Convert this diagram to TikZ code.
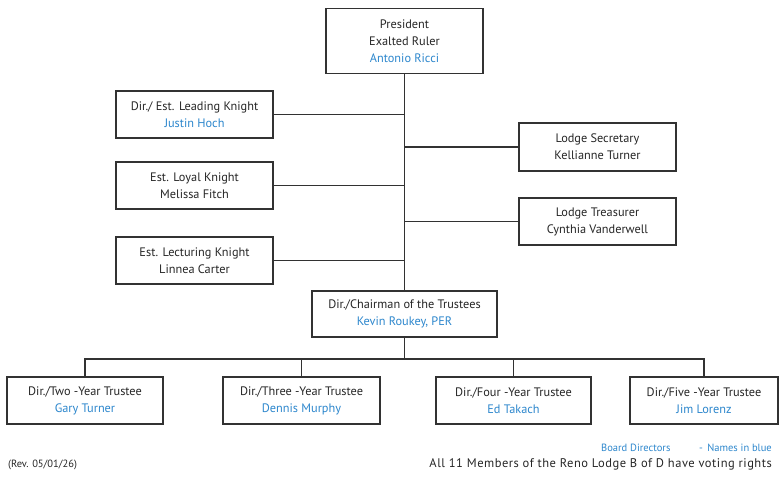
\documentclass[tikz,border=0pt]{standalone}
\usepackage{fontspec}
\setmainfont{PT Sans}
\definecolor{nameblue}{RGB}{45,135,205}
\definecolor{linegrey}{RGB}{50,50,50}
\begin{document}
\begin{tikzpicture}[x=1pt,y=-1pt,
  box/.style={draw=linegrey,line width=1.3pt,fill=white,align=center,inner sep=0pt,
    font=\fontsize{12.3}{17}\selectfont,text=black!85},
  conn/.style={draw=linegrey,line width=1.1pt},
  note/.style={font=\fontsize{10.5}{12}\selectfont,inner sep=0pt}]
\useasboundingbox (0,0) rectangle (780,499);
\fill[white] (0,0) rectangle (780,499);
% boxes
\node[box,minimum width=157,minimum height=65] (pres) at (404.5,41)
  {President\\Exalted Ruler\\\textcolor{nameblue}{Antonio Ricci}};
\node[box,minimum width=157,minimum height=47] (lead) at (194.5,114.5)
  {Dir./ Est. Leading Knight\\\textcolor{nameblue}{Justin Hoch}};
\node[box,minimum width=157,minimum height=47] (loyal) at (194.5,185.5)
  {Est. Loyal Knight\\Melissa Fitch};
\node[box,minimum width=157,minimum height=47] (lect) at (194.5,260.5)
  {Est. Lecturing Knight\\Linnea Carter};
\node[box,minimum width=157,minimum height=48] (sec) at (597.5,147)
  {Lodge Secretary\\Kellianne Turner};
\node[box,minimum width=157,minimum height=47] (treas) at (597.5,221.5)
  {Lodge Treasurer\\Cynthia Vanderwell};
\node[box,minimum width=185,minimum height=46] (chair) at (404.5,314)
  {Dir./Chairman of the Trustees\\\textcolor{nameblue}{Kevin Roukey, PER}};
\node[box,minimum width=156,minimum height=47] (t2) at (85,400.5)
  {Dir./Two -Year Trustee\\\textcolor{nameblue}{Gary Turner}};
\node[box,minimum width=157,minimum height=47] (t3) at (301.5,400.5)
  {Dir./Three -Year Trustee\\\textcolor{nameblue}{Dennis Murphy}};
\node[box,minimum width=155,minimum height=47] (t4) at (513.5,400.5)
  {Dir./Four -Year Trustee\\\textcolor{nameblue}{Ed Takach}};
\node[box,minimum width=148,minimum height=47] (t5) at (704,400.5)
  {Dir./Five -Year Trustee\\\textcolor{nameblue}{Jim Lorenz}};
\coordinate (bus) at (404.5,359);
% connectors
\draw[conn] (pres.south) -- (chair.north);
\draw[conn] (lead.east) -- (lead.east -| pres.south);
\draw[conn] (loyal.east) -- (loyal.east -| pres.south);
\draw[conn] (lect.east) -- (lect.east -| pres.south);
\draw[conn] (sec.west) -- (sec.west -| pres.south);
\draw[conn] (treas.west) -- (treas.west -| pres.south);
\draw[conn] (chair.south) -- (bus);
\draw[conn] (t2.north) |- (bus) -| (t5.north);
\draw[conn] (t3.north) -- (t3.north |- bus);
\draw[conn] (t4.north) -- (t4.north |- bus);
% footer
\node[note,anchor=base west,text=nameblue] (bd) at (601,451) {Board Directors};
\node[note,anchor=base east,text=nameblue] (nb) at (772,451) {-\, Names in blue};
\node[note,anchor=base west,text=black!85] (rev) at (8,467) {(Rev. 05/01/26)};
\node[note,anchor=base east,text=black!85,font=\fontsize{12.5}{14}\selectfont\addfontfeature{LetterSpace=4}] (all) at (772,467) {All 11 Members of the Reno Lodge B of D have voting rights};
\end{tikzpicture}
\end{document}
